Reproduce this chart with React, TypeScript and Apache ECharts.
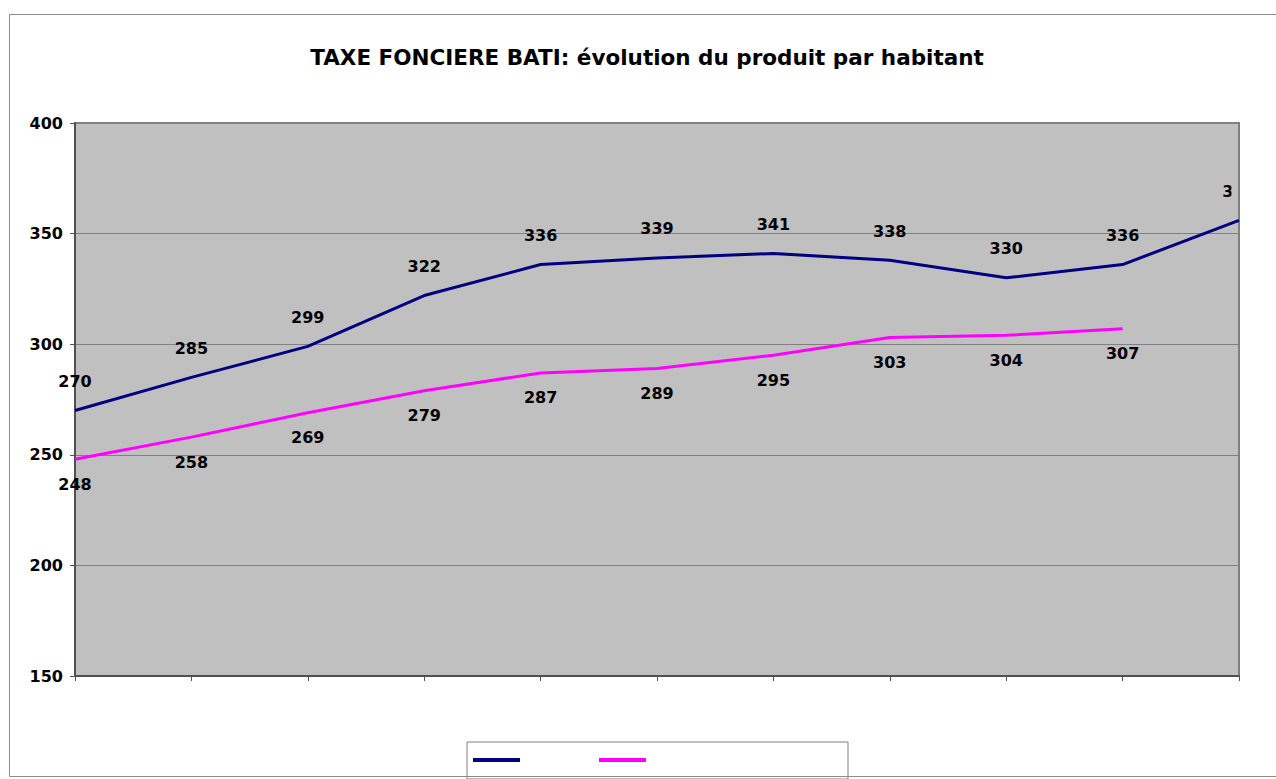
import React, { useEffect, useRef } from "react";
import * as echarts from "echarts";

const categories = ["1", "2", "3", "4", "5", "6", "7", "8", "9", "10", "11"];
const communeValues: (number | null)[] = [270, 285, 299, 322, 336, 339, 341, 338, 330, 336, 356];
const moyenneValues: (number | null)[] = [248, 258, 269, 279, 287, 289, 295, 303, 304, 307, null];
const titleText = "TAXE FONCIERE BATI: évolution du produit par habitant";
const yMin = 150;
const yMax = 400;
const yStep = 50;

const FONT = "'DejaVu Sans', Arial, sans-serif";

export default function App() {
  const ref = useRef<HTMLDivElement>(null);
  useEffect(() => {
    if (!ref.current) return;
    const chart = echarts.init(ref.current, undefined, { renderer: "svg" });
    const labelStyle = {
      show: true,
      color: "#000000",
      fontFamily: FONT,
      fontSize: 16,
      fontWeight: "bold",
    };
    chart.setOption({
      animation: false,
      backgroundColor: "#ffffff",
      title: {
        text: titleText,
        left: 642,
        textAlign: "center",
        top: 41,
        textStyle: { fontFamily: FONT, fontSize: 21.5, fontWeight: "bold", color: "#000000" },
      },
      grid: {
        left: 75,
        right: 37,
        top: 123,
        bottom: 103,
        show: true,
        backgroundColor: "#c0c0c0",
        borderColor: "#808080",
        borderWidth: 2,
      },
      legend: {
        left: 467,
        top: 742,
        padding: [16, 202, 17, 6],
        itemGap: 79,
        itemWidth: 47,
        itemHeight: 4,
        icon: "rect",
        borderColor: "#808080",
        borderWidth: 1,
        formatter: () => "",
        textStyle: { fontSize: 1 },
        data: ["serie1", "serie2"],
      },
      xAxis: {
        type: "category",
        data: categories,
        boundaryGap: false,
        axisLine: { show: true, lineStyle: { color: "#505050", width: 2 } },
        axisTick: { show: true, length: 5, lineStyle: { color: "#505050" } },
        axisLabel: { show: false },
        splitLine: { show: false },
      },
      yAxis: {
        type: "value",
        min: yMin,
        max: yMax,
        interval: yStep,
        axisLine: { show: true, lineStyle: { color: "#505050", width: 2 } },
        axisTick: { show: true, length: 5, lineStyle: { color: "#505050" } },
        axisLabel: {
          margin: 12,
          color: "#000000",
          fontFamily: FONT,
          fontSize: 16,
          fontWeight: "bold",
        },
        splitLine: { show: true, lineStyle: { color: "#808080", width: 1 } },
      },
      series: [
        {
          name: "serie1",
          type: "line",
          data: communeValues,
          color: "#000080",
          symbol: "circle",
          symbolSize: 0,
          lineStyle: { color: "#000080", width: 3 },
          label: { ...labelStyle, position: "top", distance: 21 },
        },
        {
          name: "serie2",
          type: "line",
          data: moyenneValues,
          color: "#ff00ff",
          symbol: "circle",
          symbolSize: 0,
          lineStyle: { color: "#ff00ff", width: 3 },
          label: { ...labelStyle, position: "bottom", distance: 17 },
        },
      ],
      graphic: [
        {
          type: "rect",
          z: 100,
          shape: { x: 1231.5, y: 180, width: 6.5, height: 22 },
          style: { fill: "#c0c0c0" },
        },
        {
          type: "rect",
          z: 100,
          shape: { x: 1238, y: 180, width: 2, height: 22 },
          style: { fill: "#808080" },
        },
        {
          type: "rect",
          z: 100,
          shape: { x: 1240, y: 170, width: 36, height: 50 },
          style: { fill: "#ffffff" },
        },
        {
          type: "rect",
          z: 101,
          shape: { x: 9.5, y: 14.5, width: 1300, height: 762 },
          style: { fill: "none", stroke: "#8c8c8c", lineWidth: 1 },
        },
      ],
    });
    return () => chart.dispose();
  }, []);
  return (
    <div
      ref={ref}
      style={{ position: "fixed", left: 0, top: 0, width: 1276, height: 779 }}
    />
  );
}
